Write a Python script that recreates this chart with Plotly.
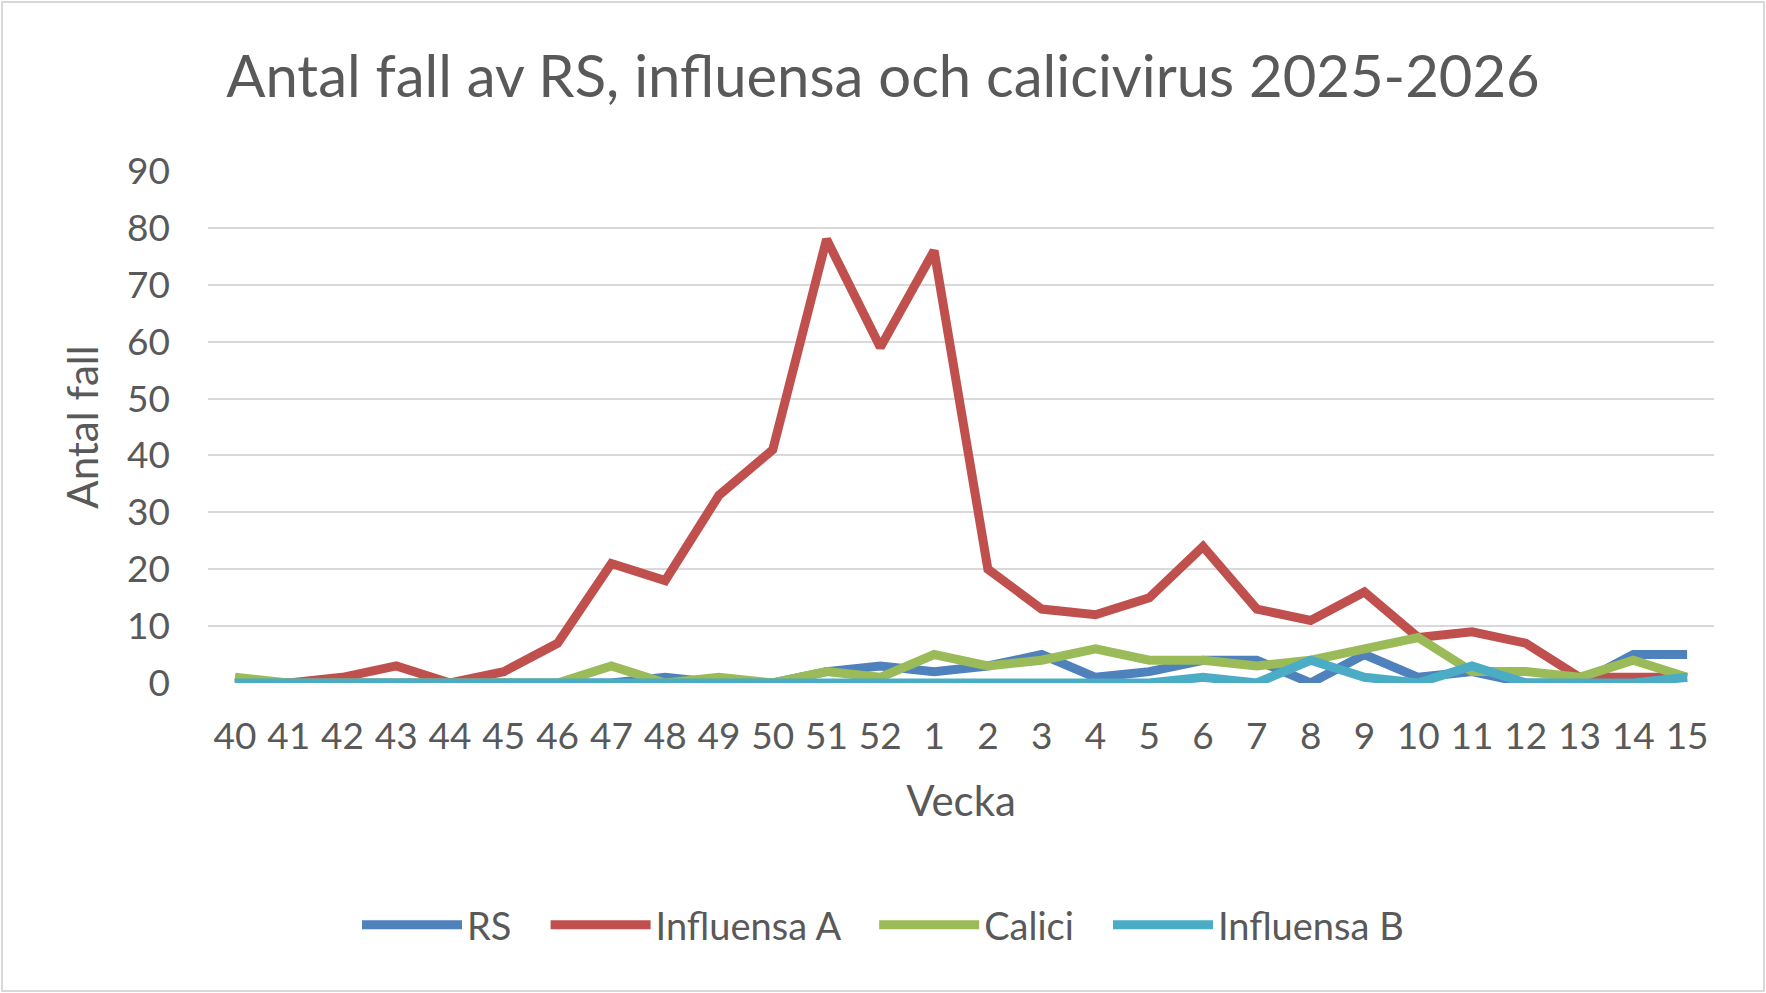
import plotly.graph_objects as go

weeks = ["40", "41", "42", "43", "44", "45", "46", "47", "48", "49", "50", "51", "52",
         "1", "2", "3", "4", "5", "6", "7", "8", "9", "10", "11", "12", "13", "14", "15"]

rs = [0, 0, 0, 0, 0, 0, 0, 0, 1, 0, 0, 2, 3, 2, 3, 5, 1, 2, 4, 4, 0, 5, 1, 2, 0, 0, 5, 5]
influensa_a = [0, 0, 1, 3, 0, 2, 7, 21, 18, 33, 41, 78, 59, 76, 20, 13, 12, 15, 24, 13, 11, 16, 8, 9, 7, 1, 1, 1]
calici = [1, 0, 0, 0, 0, 0, 0, 3, 0, 1, 0, 2, 1, 5, 3, 4, 6, 4, 4, 3, 4, 6, 8, 2, 2, 1, 4, 1]
influensa_b = [0, 0, 0, 0, 0, 0, 0, 0, 0, 0, 0, 0, 0, 0, 0, 0, 0, 0, 1, 0, 4, 1, 0, 3, 0, 0, 0, 1]

series = [("RS", rs, "#4f81bd"),
          ("Influensa A", influensa_a, "#c0504d"),
          ("Calici", calici, "#9bbb59"),
          ("Influensa B", influensa_b, "#4bacc6")]

W, H = 1766, 993
L, R, T, B = 208, 52, 171, 310
grey = "#595959"
font = "Lato"
pad = "\u00a0" * 3  # extra room between legend entries

fig = go.Figure()
for i, (name, vals, col) in enumerate(series):
    label = name + (pad if i < len(series) - 1 else "")
    fig.add_trace(go.Scatter(x=weeks, y=vals, name=label, mode="lines",
                             line=dict(color=col, width=9)))

# light border round the whole chart (paper coords from pixel positions)
pw = W - L - R
ph = H - T - B
fig.add_shape(type="rect", xref="paper", yref="paper",
              x0=(2 - L) / pw, x1=(W - 2 - L) / pw,
              y0=(2 - B) / ph, y1=1 + (T - 2) / ph,
              line=dict(color="#d9d9d9", width=2), layer="below")

fig.update_layout(
    width=W, height=H,
    margin=dict(l=L, r=R, t=T, b=B),
    paper_bgcolor="white", plot_bgcolor="white",
    font=dict(family=font, color=grey, size=37),
    title=dict(text="Antal fall av RS, influensa och calicivirus 2025-2026",
               x=0.5, xref="container", xanchor="center",
               y=1 - 77 / H, yref="container", yanchor="middle",
               font=dict(size=58, color=grey, family=font)),
    showlegend=True,
    legend=dict(orientation="h", xref="container", x=0.5, xanchor="center",
                yref="container", y=1 - 925 / H, yanchor="middle",
                font=dict(size=38, color=grey), itemwidth=100),
)
fig.update_xaxes(type="category", range=[-0.5, len(weeks) - 0.5],
                 showgrid=False, showline=False, zeroline=False,
                 ticks="", ticklabelstandoff=28, tickfont=dict(size=37, color=grey),
                 title=dict(text="Vecka", font=dict(size=42, color=grey), standoff=30))
fig.update_yaxes(range=[0, 90], dtick=10, showgrid=True, gridcolor="#d9d9d9", gridwidth=2,
                 zeroline=False, showline=False, ticks="", ticklabelstandoff=37,
                 tickfont=dict(size=37, color=grey),
                 title=dict(text="Antal fall", font=dict(size=42, color=grey), standoff=15))

fig.write_html("out.html", config={"displayModeBar": False},
               post_script="document.body.style.margin='0';")
